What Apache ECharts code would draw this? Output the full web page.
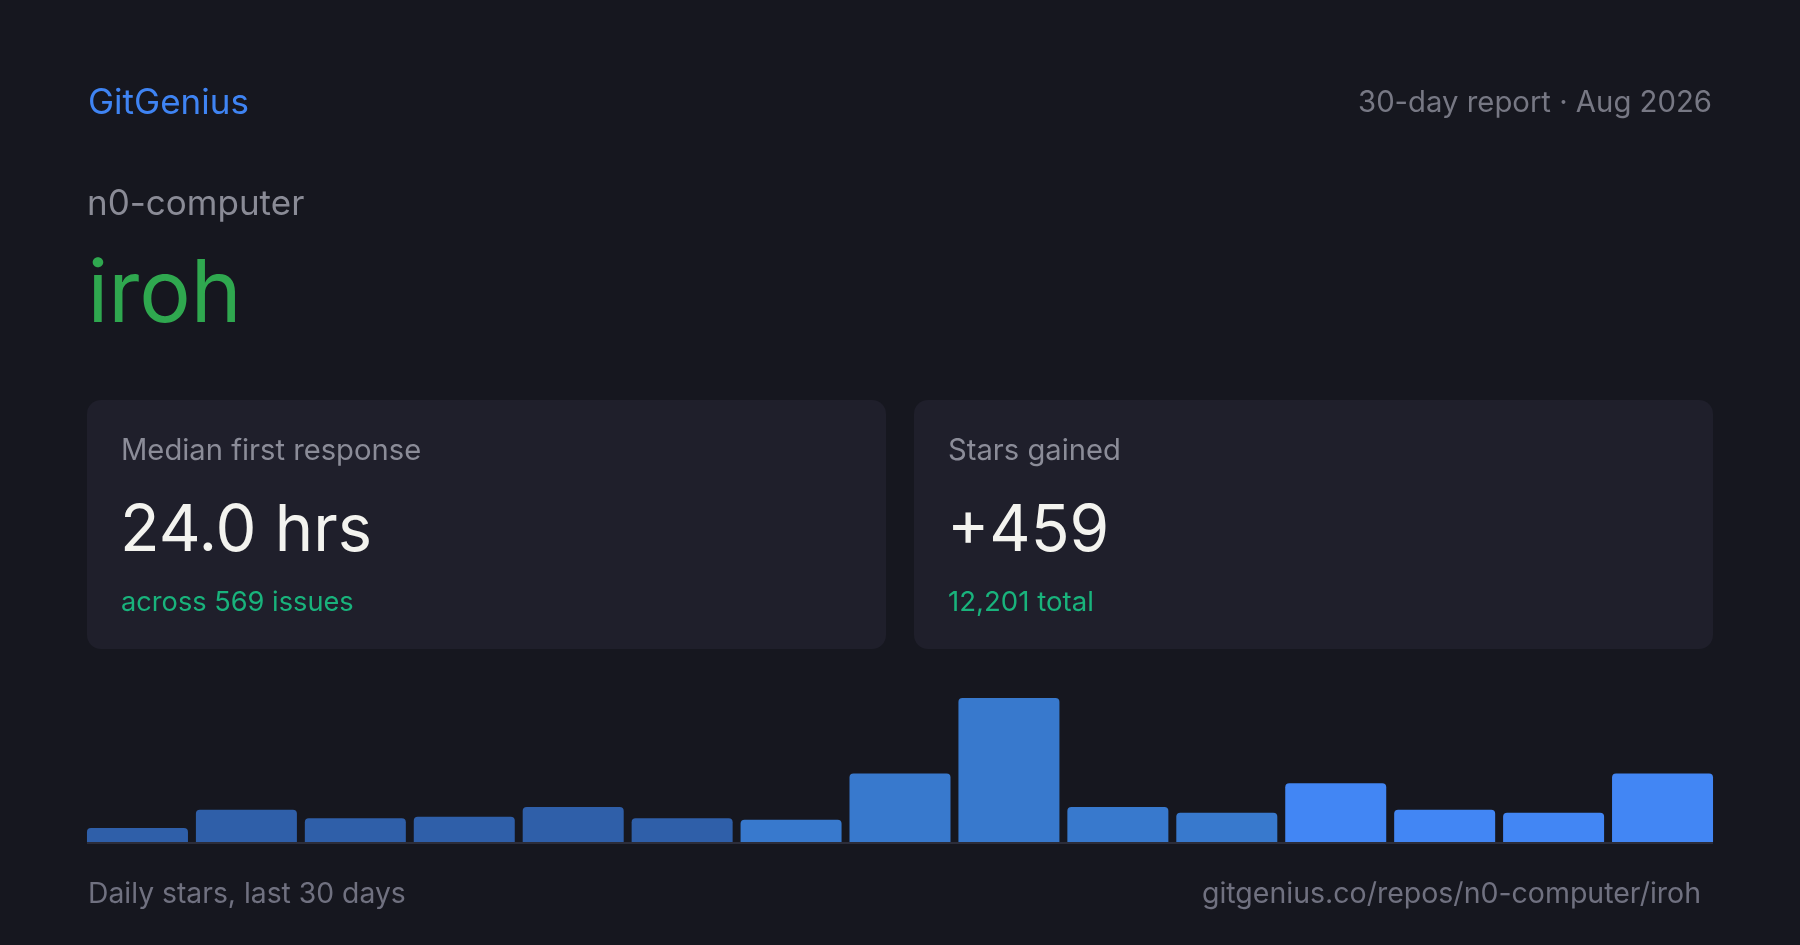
<!DOCTYPE html>
<html>
<head>
<meta charset="utf-8">
<script src="https://cdn.jsdelivr.net/npm/echarts@6/dist/echarts.min.js"></script>
<style>
html,body{margin:0;padding:0;background:#16171f;}
#chart{width:1800px;height:945px;}
</style>
</head>
<body>
<div id="chart"></div>
<script>
// ---- data ----
const brand = 'GitGenius';
const reportLabel = '30-day report · Aug 2026';
const owner = 'n0-computer';
const repo = 'iroh';
const cardLabels = ['Median first response', 'Stars gained'];
const cardValues = ['24.0 hrs', '+459'];
const cardSubs = ['across 569 issues', '12,201 total'];
const footerLeft = 'Daily stars, last 30 days';
const footerRight = 'gitgenius.co/repos/n0-computer/iroh';
const dayBuckets = ['1','2','3','4','5','6','7','8','9','10','11','12','13','14','15'];
const dailyStars = [10, 23, 17, 18, 25, 17, 16, 49, 103, 25, 21, 42, 23, 21, 49];

// ---- styles ----
const FONT = 'Inter, "Noto Sans", sans-serif';
const shades = ['#2f5fa9', '#3879cd', '#4286f4'];
function shadeFor(i) { return i < 6 ? shades[0] : (i < 11 ? shades[1] : shades[2]); }

const chart = echarts.init(document.getElementById('chart'), null, {renderer: 'canvas'});

function txt(x, y, text, size, color, align, weight) {
  return {
    type: 'text', x: x, y: y, silent: true,
    style: {
      text: text, fill: color,
      font: (weight || 400) + ' ' + size + 'px ' + FONT,
      textAlign: align || 'left', textVerticalAlign: 'middle'
    }
  };
}

const cardX = [87, 914];
const cardW = 799;
const cardY = 400;
const cardH = 249;
const valueSizes = [65, 64];
const subSizes = [27.2, 27.6];
const graphics = [];
cardX.forEach(function (cx, i) {
  graphics.push({
    type: 'rect', silent: true, z: 0,
    shape: {x: cx, y: cardY, width: cardW, height: cardH, r: 14},
    style: {fill: '#1f1f2b'}
  });
  graphics.push(txt(cx + 34, 451.5, cardLabels[i], 29.2, '#8b8c98'));
  graphics.push(txt(cx + 33, 531.5, cardValues[i], valueSizes[i], '#f3f3ef'));
  graphics.push(txt(cx + 34, 602.7, cardSubs[i], subSizes[i], '#19b37c'));
});
graphics.push(txt(88, 103.5, brand, 35, '#3f84f3'));
graphics.push(txt(1712, 103, reportLabel, 29.3, '#777884', 'right'));
graphics.push(txt(87, 204.8, owner, 35, '#8a8b96'));
graphics.push(txt(87.5, 296, repo, 86, '#2fa84f'));
graphics.push(txt(88, 894.5, footerLeft, 28.3, '#707180'));
graphics.push(txt(1701, 894.5, footerRight, 28.5, '#707180', 'right'));
// baseline under bars
graphics.push({
  type: 'rect', silent: true, z: 5,
  shape: {x: 87, y: 842, width: 1626, height: 2},
  style: {fill: '#2c2d3a'}
});

chart.setOption({
  backgroundColor: '#16171f',
  animation: false,
  grid: {left: 83, right: 83, top: 698, bottom: 103, containLabel: false},
  xAxis: {
    type: 'category', data: dayBuckets,
    axisLine: {show: false}, axisTick: {show: false}, axisLabel: {show: false}
  },
  yAxis: {
    type: 'value', min: 0, max: 'dataMax',
    axisLine: {show: false}, axisTick: {show: false}, axisLabel: {show: false},
    splitLine: {show: false}
  },
  graphic: graphics,
  series: [{
    type: 'bar',
    data: dailyStars.map(function (v, i) {
      return {value: v, itemStyle: {color: shadeFor(i)}};
    }),
    barWidth: 101,
    itemStyle: {borderRadius: [4, 4, 0, 0]},
    silent: true
  }]
});
</script>
</body>
</html>
